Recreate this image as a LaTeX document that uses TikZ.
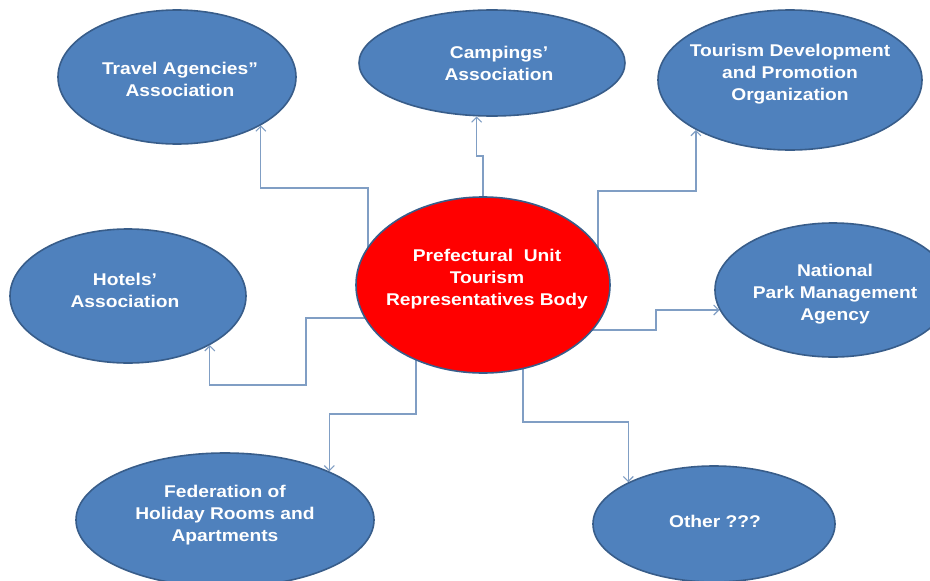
\documentclass[tikz,border=0pt]{standalone}
\usepackage{fontspec}
\setmainfont[FakeStretch=1.13]{Liberation Sans}
\usetikzlibrary{shapes.geometric,arrows.meta}
\pgfdeclarelayer{background}
\pgfsetlayers{background,main}
\definecolor{fillblue}{RGB}{79,129,189}
\definecolor{edgeblue}{RGB}{56,93,138}
\definecolor{conncol}{RGB}{128,158,196}
\definecolor{mainred}{RGB}{255,0,0}
\tikzset{
  orgbox/.style={ellipse, draw=edgeblue, line width=1.6pt, fill=fillblue, inner sep=0pt},
  hubbox/.style={ellipse, draw=edgeblue, line width=1.6pt, fill=mainred, inner sep=0pt},
  lbl/.style={text=white, font=\fontsize{17}{22}\selectfont\bfseries, align=center, inner sep=0pt},
  conn/.style={draw=conncol, line width=1.1pt, -{Straight Barb[length=5pt,width=10pt]}}
}
\begin{document}
\begin{tikzpicture}[x=1pt,y=-1pt]
\useasboundingbox (0,0) rectangle (930,581);
\clip (0,0) rectangle (930,581);
% ellipses
\node[orgbox, minimum width=238pt, minimum height=134pt] (travel) at (177,77) {};
\node[orgbox, minimum width=266pt, minimum height=106pt] (camp) at (492,63) {};
\node[orgbox, minimum width=264pt, minimum height=140pt] (tour) at (790,80) {};
\node[orgbox, minimum width=236pt, minimum height=134pt] (hotel) at (128,296) {};
\node[orgbox, minimum width=236pt, minimum height=134pt] (nat) at (833,290) {};
\node[orgbox, minimum width=298pt, minimum height=134pt] (fed) at (225,520) {};
\node[orgbox, minimum width=242pt, minimum height=116pt] (other) at (714,524) {};
\node[hubbox, minimum width=254pt, minimum height=176pt] (hub) at (483,285) {};
% labels
\node[lbl] (ttravel) at (180,79) {Travel Agencies''\\Association};
\node[lbl] (tcamp) at (499,63) {Campings'\\Association};
\node[lbl] (ttour) at (790,74) {Tourism Development\\and Promotion\\Organization};
\node[lbl] (thotel) at (125,290) {Hotels'\\Association};
\node[lbl] (tnat) at (835,294) {National\\Park Management\\Agency};
\node[lbl] (tfed) at (225,515) {Federation of\\Holiday Rooms and\\Apartments};
\node[lbl] (tother) at (715,521) {Other ???};
\node[lbl] (thub) at (487,279) {Prefectural~ Unit\\Tourism\\Representatives Body};
% connectors (start inside the hub, which covers them)
\begin{pgfonlayer}{background}
\fill[white] (0,0) rectangle (930,581);
\draw[conn] (368,0 |- hub) -- (368,188) -| (travel.-30);
\draw[conn] (483,0 |- hub) -- (483,156) -| (camp.-106);
\draw[conn] (598,0 |- hub) -- (598,191) -| (tour.-152);
\draw[conn] (hub |- 0,318) -- (306,318) -- (306,385) -| (hotel.-31);
\draw[conn] (hub |- 0,330) -- (656,330) |- (nat.-170);
\draw[conn] (416,0 |- hub) -- (416,414) -| (fed.25);
\draw[conn] (523,0 |- hub) -- (523,422) -| (other.154);
\end{pgfonlayer}
\end{tikzpicture}
\end{document}
